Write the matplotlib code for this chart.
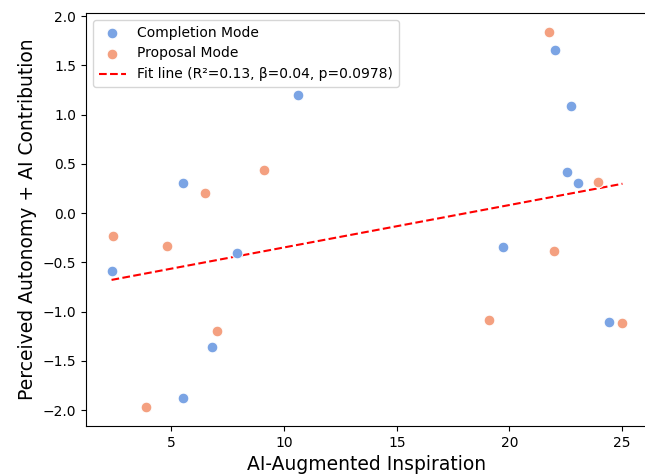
import matplotlib
matplotlib.use("Agg")
import matplotlib.pyplot as plt
import numpy as np

# values
completion_x = [2.35, 5.50, 5.50, 6.79, 7.93, 10.61, 19.71, 22.02, 22.75, 22.56, 23.04, 24.42]
completion_y = [-0.59, 0.31, -1.88, -1.36, -0.40, 1.20, -0.34, 1.66, 1.09, 0.42, 0.31, -1.11]

proposal_x = [2.41, 3.87, 4.79, 6.50, 7.01, 9.13, 19.08, 21.74, 21.98, 23.94, 25.01]
proposal_y = [-0.23, -1.97, -0.33, 0.20, -1.20, 0.44, -1.08, 1.84, -0.38, 0.32, -1.12]

fit_label = "Fit line (R\u00b2=0.13, \u03b2=0.04, p=0.0978)"

fig = plt.figure(figsize=(6.45, 4.74), dpi=100)
ax = fig.add_axes([86 / 645, 48 / 474, 562 / 645, 413 / 474])

ax.scatter(completion_x, completion_y, s=60, color="#7ba4e4",
           edgecolor="white", linewidth=0.75, label="Completion Mode", zorder=3)
ax.scatter(proposal_x, proposal_y, s=60, color="#f4a080",
           edgecolor="white", linewidth=0.75, label="Proposal Mode", zorder=3)

# regression over both groups
all_x = np.array(completion_x + proposal_x)
all_y = np.array(completion_y + proposal_y)
slope, intercept = np.polyfit(all_x, all_y, 1)
xs = np.linspace(all_x.min(), all_x.max(), 50)
ax.plot(xs, slope * xs + intercept, "--", color="red", linewidth=1.5,
        label=fit_label, zorder=2)

ax.set_xlabel("AI-Augmented Inspiration", fontsize=13.5)
ax.set_ylabel("Perceived Autonomy + AI Contribution", fontsize=13.5)
ax.tick_params(labelsize=10)
ax.set_yticks(np.arange(-2.0, 2.01, 0.5))
ax.set_xticks([5, 10, 15, 20, 25])

ax.legend(loc="upper left", fontsize=10)

fig.savefig("out.png", dpi=100)
